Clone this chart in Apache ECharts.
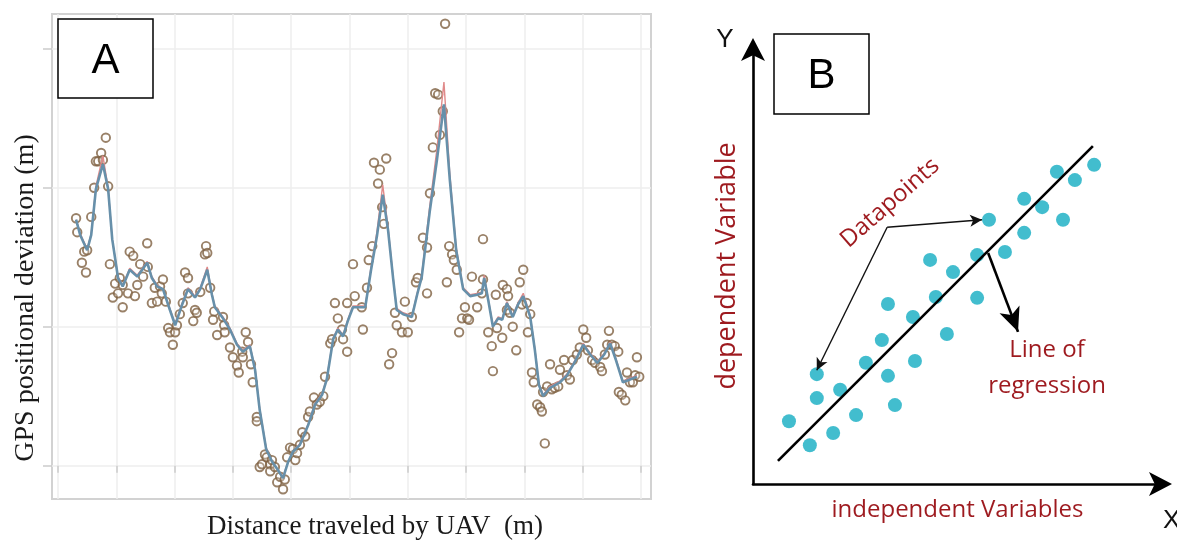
<!DOCTYPE html>
<html>
<head>
<meta charset="utf-8">
<title>GPS deviation / regression</title>
<script src="https://cdn.jsdelivr.net/npm/echarts@6.0.0/dist/echarts.min.js"></script>
<style>
  html, body { margin: 0; padding: 0; background: #fff; }
  #chart { width: 1177px; height: 540px; }
</style>
</head>
<body>
<div id="chart"></div>
<script>
// ---- panel A : GPS deviation along the flight (grid units, no labels on the original) ----
var gpsPoints = [
  [0.31,1.78],[0.33,1.68],[0.41,1.46],[0.45,1.54],[0.48,1.39],[0.50,1.55],[0.57,1.79],[0.62,2.00],
  [0.65,2.19],[0.69,2.19],[0.74,2.25],[0.77,2.20],[0.82,2.36],[0.86,2.01],[0.89,1.45],[0.94,1.21],
  [0.98,1.31],[1.03,1.24],[1.06,1.35],[1.11,1.30],[1.11,1.14],[1.20,1.24],[1.23,1.54],[1.29,1.51],
  [1.32,1.22],[1.36,1.30],[1.41,1.45],[1.46,1.36],[1.53,1.60],[1.54,1.43],[1.61,1.17],[1.66,1.28],
  [1.70,1.18],[1.75,1.29],[1.78,1.24],[1.80,1.34],[1.85,1.18],[1.89,0.99],[1.92,0.96],[1.97,0.87],
  [2.01,0.96],[2.04,1.01],[2.09,1.09],[2.14,1.17],[2.18,1.39],[2.23,1.35],[2.23,1.24],[2.32,1.04],
  [2.35,1.12],[2.38,1.10],[2.44,1.25],[2.52,1.52],[2.54,1.58],[2.56,1.53],[2.61,1.28],[2.66,1.05],
  [2.68,1.11],[2.73,0.94],[2.83,1.07],[2.85,1.01],[2.86,0.96],[2.95,0.85],[3.00,0.78],[3.07,0.72],
  [3.10,0.67],[3.16,0.82],[3.17,0.78],[3.22,0.96],[3.26,0.89],[3.31,0.73],[3.34,0.60],[3.41,0.35],
  [3.41,0.32],[3.46,-0.01],[3.50,0.01],[3.55,0.08],[3.58,0.06],[3.64,0.01],[3.64,-0.04],[3.67,0.04],
  [3.72,-0.01],[3.76,-0.12],[3.81,-0.08],[3.86,-0.17],[3.89,-0.10],[3.93,0.06],[3.98,0.13],[4.03,0.12],
  [4.07,0.04],[4.10,0.09],[4.15,0.15],[4.19,0.24],[4.24,0.21],[4.29,0.35],[4.32,0.39],[4.39,0.49],
  [4.44,0.44],[4.49,0.46],[4.55,0.50],[4.58,0.64],[4.67,0.88],[4.70,0.91],[4.75,1.17],[4.80,1.06],
  [4.87,0.98],[4.89,0.91],[4.96,1.17],[4.96,0.82],[5.06,1.45],[5.09,1.22],[5.21,1.14],[5.23,0.98],
  [5.30,1.28],[5.33,1.48],[5.39,1.58],[5.42,2.18],[5.49,2.03],[5.52,2.13],[5.56,1.86],[5.59,1.74],
  [5.63,2.21],[5.68,0.73],[5.73,0.81],[5.78,1.10],[5.81,1.01],[5.90,0.96],[5.95,1.18],[6.00,0.96],
  [6.07,1.07],[6.14,1.32],[6.17,1.35],[6.26,1.64],[6.33,1.24],[6.33,1.57],[6.38,1.96],[6.43,2.29],
  [6.47,2.68],[6.52,2.67],[6.55,2.38],[6.60,2.55],[6.64,3.18],[6.67,1.32],[6.71,1.58],[6.76,1.52],
  [6.79,1.48],[6.84,1.41],[6.88,0.96],[6.93,1.06],[6.98,1.14],[7.02,1.06],[7.05,1.05],[7.10,1.36],
  [7.19,1.14],[7.27,1.24],[7.29,1.63],[7.29,1.34],[7.38,0.96],[7.44,0.86],[7.46,0.68],[7.51,1.23],
  [7.53,0.99],[7.62,0.92],[7.63,1.30],[7.70,1.27],[7.70,1.12],[7.72,1.22],[7.75,1.10],[7.80,1.00],
  [7.86,0.83],[7.92,1.32],[7.96,1.16],[7.98,1.41],[8.04,1.17],[8.06,0.96],[8.10,1.09],[8.13,0.67],
  [8.16,0.60],[8.22,0.44],[8.27,0.42],[8.30,0.39],[8.32,0.53],[8.35,0.16],[8.39,0.57],[8.44,0.73],
  [8.47,0.55],[8.52,0.56],[8.58,0.57],[8.61,0.69],[8.68,0.76],[8.73,0.65],[8.78,0.62],[8.83,0.76],
  [8.90,0.80],[8.95,0.85],[9.01,0.98],[9.06,0.92],[9.09,0.83],[9.16,0.76],[9.21,0.74],[9.30,0.71],
  [9.33,0.68],[9.38,0.80],[9.42,0.87],[9.45,0.97],[9.50,0.87],[9.55,0.86],[9.61,0.82],[9.62,0.53],
  [9.67,0.51],[9.73,0.47],[9.76,0.67],[9.81,0.60],[9.86,0.60],[9.90,0.65],[9.93,0.78],[9.97,0.64]
];

// fitted curves (blue model and the thin red one behind it)
var fitX = [0.31,0.38,0.50,0.57,0.65,0.77,0.86,0.93,1.03,1.11,1.23,1.36,1.53,1.61,1.70,1.80,1.92,2.01,
  2.13,2.23,2.35,2.44,2.56,2.64,2.69,2.83,2.95,3.07,3.17,3.29,3.38,3.46,3.57,3.67,3.77,3.86,3.95,4.03,
  4.15,4.29,4.41,4.53,4.61,4.72,4.80,4.89,4.97,5.06,5.18,5.27,5.37,5.47,5.57,5.66,5.75,5.81,5.92,6.07,
  6.16,6.24,6.38,6.50,6.62,6.72,6.83,6.95,7.07,7.19,7.27,7.31,7.38,7.46,7.55,7.62,7.70,7.80,7.89,7.98,
  8.10,8.18,8.25,8.32,8.44,8.61,8.73,8.87,9.01,9.13,9.25,9.37,9.47,9.57,9.69,9.81,9.93];
var fitBlue = [1.77,1.66,1.55,1.66,1.99,2.17,1.99,1.63,1.35,1.29,1.41,1.36,1.46,1.35,1.29,1.27,1.12,1.01,
  1.16,1.27,1.21,1.27,1.41,1.23,1.14,1.06,0.98,0.87,0.82,0.86,0.69,0.40,0.12,0.03,-0.03,-0.09,0.03,0.10,
  0.15,0.29,0.44,0.51,0.62,0.91,0.98,0.93,1.04,1.14,1.14,1.14,1.41,1.65,1.95,1.70,1.34,1.12,1.09,1.07,
  1.23,1.36,1.84,2.20,2.60,2.06,1.55,1.27,1.22,1.23,1.24,1.35,1.19,1.00,1.06,1.05,1.17,1.07,1.16,1.22,
  1.07,0.83,0.58,0.50,0.56,0.60,0.65,0.75,0.87,0.80,0.74,0.80,0.88,0.76,0.60,0.62,0.64];
var fitRed = [1.77,1.67,1.56,1.67,2.01,2.23,2.00,1.63,1.36,1.30,1.42,1.37,1.47,1.36,1.30,1.27,1.13,1.02,
  1.17,1.28,1.22,1.28,1.43,1.24,1.15,1.07,0.99,0.88,0.83,0.87,0.70,0.41,0.13,0.03,-0.03,-0.08,0.03,0.10,
  0.16,0.30,0.45,0.52,0.63,0.92,0.99,0.94,1.05,1.15,1.15,1.15,1.43,1.68,2.02,1.72,1.35,1.13,1.10,1.08,
  1.24,1.38,1.88,2.28,2.76,2.10,1.57,1.28,1.23,1.24,1.25,1.37,1.20,1.01,1.07,1.06,1.18,1.08,1.17,1.24,
  1.08,0.84,0.59,0.51,0.57,0.61,0.66,0.76,0.88,0.81,0.75,0.81,0.89,0.77,0.61,0.63,0.65];

// ---- panel B : schematic regression ----
var bX = [0.88,1.39,1.56,1.56,1.96,2.13,2.52,2.76,3.15,3.30,3.30,3.47,3.91,3.96,4.33,
  4.47,4.74,4.89,5.48,5.48,5.77,6.16,6.63,6.63,7.07,7.43,7.58,7.87,8.34];
var bY = [1.44,0.89,2.52,1.97,1.17,2.16,1.58,2.78,3.30,4.13,2.48,1.81,3.83,2.82,5.14,
  4.29,3.44,4.86,5.25,4.27,6.06,5.32,6.54,5.76,6.35,7.16,6.06,6.97,7.32];
var regX = [0.61, 8.31];
var regY = [0.53, 7.75];
// callout arrows: [fromX, fromY, toX, toY]
var dataArrows = [[3.28, 5.89, 5.60, 6.06], [3.28, 5.89, 1.56, 2.61]];
var regArrow = [5.75, 5.30, 6.48, 3.49];

var red = '#9e1a1f';
var sans = 'Open Sans';

function zip(xs, ys) { return xs.map(function (x, i) { return [x, ys[i]]; }); }
function arrowData(a) { return [{ coord: [a[0], a[1]] }, { coord: [a[2], a[3]] }]; }

var chart = echarts.init(document.getElementById('chart'));
chart.setOption({
  animation: false,
  grid: [
    { left: 52, top: 14, width: 599, height: 485, show: true, borderColor: '#d2d2d2', borderWidth: 2 },
    { left: 58, top: 14, width: 583, height: 485 },
    { left: 52, top: 49, width: 599, height: 417 },
    { left: 753, top: 48, width: 409, height: 436 }
  ],
  xAxis: [
    { gridIndex: 0, type: 'value', min: 0, max: 1, show: false },
    {
      gridIndex: 1, type: 'value', min: 0, max: 10, interval: 1,
      axisLine: { show: false },
      axisTick: { show: true, length: 7, lineStyle: { color: '#cccccc', width: 1.5 } },
      axisLabel: { show: false },
      splitLine: { show: true, lineStyle: { color: '#eeeeee', width: 1.5 } }
    },
    { gridIndex: 2, type: 'value', min: 0, max: 1, show: false },
    {
      gridIndex: 3, type: 'value', min: 0, max: 10,
      axisLine: { show: true, onZero: false, symbol: ['none', 'arrow'], symbolSize: [18, 23],
        symbolOffset: [0, 10], lineStyle: { color: '#000', width: 2.6 } },
      axisTick: { show: false }, axisLabel: { show: false }, splitLine: { show: false },
      name: 'independent Variables', nameLocation: 'middle', nameGap: 14,
      nameTextStyle: { color: red, fontSize: 24, fontFamily: sans }
    }
  ],
  yAxis: [
    { gridIndex: 0, type: 'value', min: 0, max: 1, show: false },
    { gridIndex: 1, type: 'value', min: -0.24, max: 3.25, show: false },
    {
      gridIndex: 2, type: 'value', min: 0, max: 3, interval: 1,
      axisLine: { show: false },
      axisTick: { show: true, length: 9, lineStyle: { color: '#cccccc', width: 1.5 } },
      axisLabel: { show: false },
      splitLine: { show: true, lineStyle: { color: '#eeeeee', width: 1.5 } }
    },
    {
      gridIndex: 3, type: 'value', min: 0, max: 10,
      axisLine: { show: true, onZero: false, symbol: ['none', 'arrow'], symbolSize: [18, 23],
        symbolOffset: [0, 10], lineStyle: { color: '#000', width: 2.6 } },
      axisTick: { show: false }, axisLabel: { show: false }, splitLine: { show: false },
      name: 'dependent Variable', nameLocation: 'middle', nameGap: 12, nameRotate: 90,
      nameTextStyle: { color: red, fontSize: 27, fontFamily: sans }
    }
  ],
  series: [
    {
      type: 'scatter', xAxisIndex: 1, yAxisIndex: 1, data: gpsPoints,
      symbol: 'circle', symbolSize: 8.5, z: 2,
      itemStyle: { color: 'rgba(255,255,255,0.3)', borderColor: '#7f6142', borderWidth: 1.9 }
    },
    {
      type: 'line', xAxisIndex: 1, yAxisIndex: 1, data: zip(fitX, fitRed),
      showSymbol: false, z: 3, lineStyle: { color: '#e08a8a', width: 1.4 }
    },
    {
      type: 'line', xAxisIndex: 1, yAxisIndex: 1, data: zip(fitX, fitBlue),
      showSymbol: false, z: 4, lineStyle: { color: '#6790aa', width: 2.6 }
    },
    {
      type: 'scatter', xAxisIndex: 3, yAxisIndex: 3, data: zip(bX, bY),
      symbolSize: 14, itemStyle: { color: '#13adc2' },
      markLine: {
        silent: true, symbol: ['none', 'arrow'], symbolSize: [9, 12],
        label: { show: false },
        lineStyle: { color: '#111', width: 1.4, type: 'solid' },
        data: dataArrows.map(arrowData)
      }
    },
    {
      type: 'line', xAxisIndex: 3, yAxisIndex: 3, data: zip(regX, regY),
      showSymbol: false, lineStyle: { color: '#000', width: 2.6 },
      markLine: {
        silent: true, symbol: ['none', 'arrow'], symbolSize: [16, 24],
        label: { show: false },
        lineStyle: { color: '#000', width: 2.6, type: 'solid' },
        data: [arrowData(regArrow)]
      }
    }
  ],
  graphic: [
    { type: 'rect', z: 100, shape: { x: 58, y: 19, width: 95, height: 79 },
      style: { fill: '#fff', stroke: '#000', lineWidth: 1.5 } },
    { type: 'text', z: 101, x: 105.5, y: 61,
      style: { text: 'A', font: '42px "Liberation Sans"', fill: '#000', textAlign: 'center', textVerticalAlign: 'middle' } },
    { type: 'rect', z: 100, shape: { x: 774, y: 34, width: 95, height: 80 },
      style: { fill: '#fff', stroke: '#000', lineWidth: 1.5 } },
    { type: 'text', z: 101, x: 821.5, y: 76,
      style: { text: 'B', font: '42px "Liberation Sans"', fill: '#000', textAlign: 'center', textVerticalAlign: 'middle' } },
    { type: 'text', z: 101, x: 26, y: 298, rotation: Math.PI / 2,
      style: { text: 'GPS positional deviation (m)', font: '28px "Liberation Serif"', fill: '#1a1a1a', textAlign: 'center', textVerticalAlign: 'middle' } },
    { type: 'text', z: 101, x: 375, y: 527,
      style: { text: 'Distance traveled by UAV  (m)', font: '27px "Liberation Serif"', fill: '#1a1a1a', textAlign: 'center', textVerticalAlign: 'middle' } },
    { type: 'text', z: 101, x: 725, y: 40,
      style: { text: 'Y', font: '26px "Liberation Sans"', fill: '#111', textAlign: 'center', textVerticalAlign: 'middle' } },
    { type: 'text', z: 101, x: 1163, y: 521,
      style: { text: 'X', font: '26px "Liberation Sans"', fill: '#111', textAlign: 'left', textVerticalAlign: 'middle' } },
    { type: 'text', z: 101, x: 890, y: 203, rotation: 0.72,
      style: { text: 'Datapoints', font: '24px "Open Sans"', fill: red, textAlign: 'center', textVerticalAlign: 'middle' } },
    { type: 'text', z: 101, x: 1047, y: 368,
      style: { text: 'Line of\nregression', font: '24px "Open Sans"', lineHeight: 36, fill: red, textAlign: 'center', textVerticalAlign: 'middle' } }
  ]
});
</script>
</body>
</html>
